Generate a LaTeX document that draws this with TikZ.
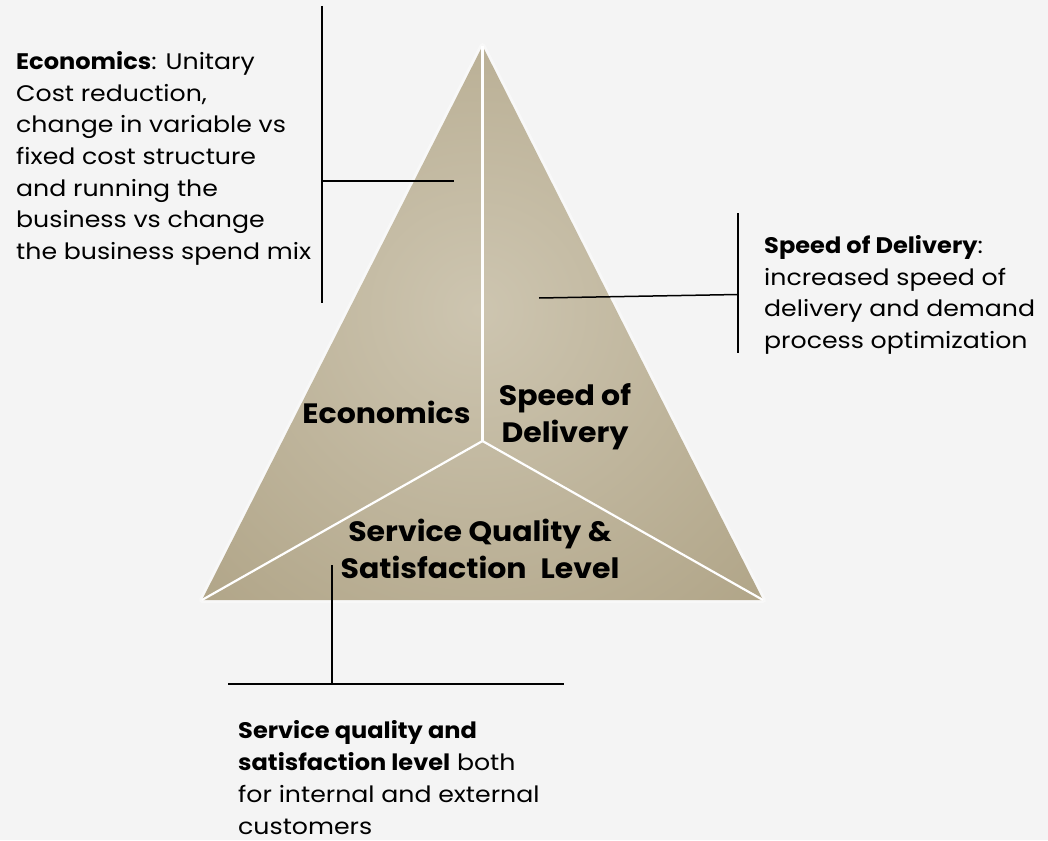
\documentclass[tikz,border=0pt]{standalone}
\usepackage{fontspec}
\setmainfont{Poppins}[FakeStretch=1.12, BoldFeatures={FakeStretch=1.07}]
\definecolor{pagebg}{HTML}{F4F4F4}
\definecolor{trimid}{HTML}{CDC5B0}
\definecolor{triedge}{HTML}{A69979}
\begin{document}
\begin{tikzpicture}[x=1pt,y=-1pt,
  note/.style={inner sep=0pt, anchor=north west, align=left, text=black,
    font=\fontsize{22.5}{31.7}\selectfont},
  facet/.style={inner sep=0pt, align=center, text=black,
    font=\bfseries\fontsize{28}{37}\selectfont},
  leader/.style={draw=black, line width=1.5pt},
  divider/.style={draw=white, line width=2.2pt}]

% canvas
\fill[pagebg] (0,0) rectangle (1048,840);
\useasboundingbox (0,0) rectangle (1048,840);

% triangle corners and centre
\coordinate (apex) at (482.5,46);
\coordinate (bl) at (202,600);
\coordinate (br) at (763,600);
\coordinate (hub) at (482.5,441);

% soft halo and shaded body
\draw[white!40!pagebg, line width=6pt, line join=round] (apex) -- (bl) -- (br) -- cycle;
\begin{scope}
  \clip (apex) -- (bl) -- (br) -- cycle;
  \shade[inner color=trimid, outer color=triedge] (478,310) circle [radius=560pt];
\end{scope}

% facet dividers
\draw[divider] (hub) -- (apex);
\draw[divider] (hub) -- (bl);
\draw[divider] (hub) -- (br);

% facet labels
\node[facet, anchor=base] (econ) at (386.5,423.3) {Economics};
\node[facet, anchor=north] (speed) at (565,379) {\strut Speed of\\Delivery};
\node[facet, anchor=north] (quality) at (480,515) {\strut Service Quality \&\\Satisfaction\hspace{0.5em}Level};

% descriptions
\node[note] (econnote) at (16,47.1) {\strut\textbf{Economics}: Unitary\\Cost reduction,\\change in variable vs\\fixed cost structure\\and running the\\business vs change\\the business spend mix};
\node[note] (speednote) at (764,231) {\strut\textbf{Speed of Delivery}:\\increased speed of\\delivery and demand\\process optimization};
\node[note] (qualitynote) at (238,716.5) {\strut\textbf{Service quality and}\\\textbf{satisfaction level} both\\for internal and external\\customers};

% leader lines
\coordinate (econbarTop) at (322,6);
\coordinate (econbarBot) at (322,303);
\coordinate (econbarMid) at (322,181);
\coordinate (econtip) at (454,181);
\draw[leader] (econbarTop) -- (econbarBot);
\draw[leader] (econbarMid) -- (econtip);

\coordinate (speedbarTop) at (738,213);
\coordinate (speedbarBot) at (738,353);
\coordinate (speedbarMid) at (738,294.5);
\coordinate (speedtip) at (539,298);
\draw[leader] (speedbarTop) -- (speedbarBot);
\draw[leader] (speedtip) -- (speedbarMid);

\coordinate (qualbarL) at (228,684);
\coordinate (qualbarR) at (564,684);
\coordinate (qualbarMid) at (332,684);
\coordinate (qualtip) at (332,565);
\draw[leader] (qualbarL) -- (qualbarR);
\draw[leader] (qualtip) -- (qualbarMid);
\end{tikzpicture}
\end{document}
